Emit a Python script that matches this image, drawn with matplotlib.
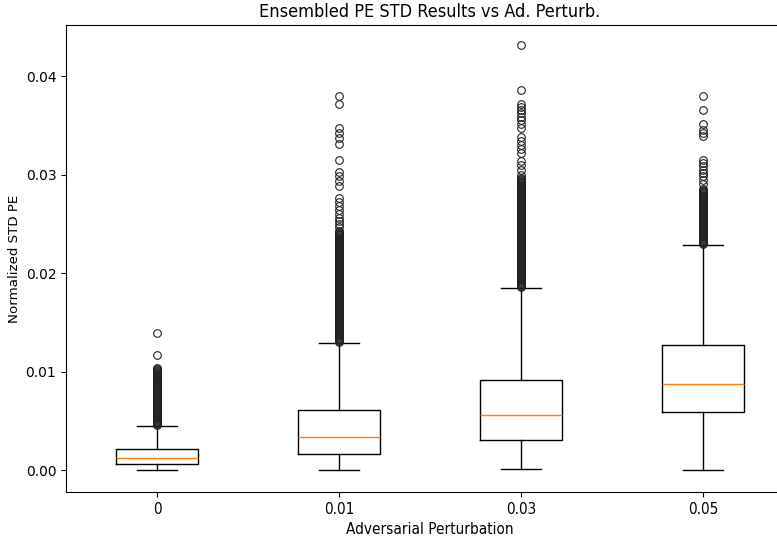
import matplotlib
matplotlib.use("Agg")
import matplotlib.pyplot as plt

# Perturbation levels and their tick labels
labels = ["0", "0.01", "0.03", "0.05"]

# Box statistics for each perturbation level
q1 = [0.00061, 0.00159, 0.00302, 0.00585]
med = [0.00122, 0.00332, 0.00561, 0.00876]
q3 = [0.00210, 0.00612, 0.00917, 0.01269]
whislo = [0.0000, 0.0000, 0.00007, 0.00003]
whishi = [0.00450, 0.01290, 0.01850, 0.02284]

# Outliers above the upper whisker
fliers_0 = [0.0139, 0.0117, 0.0104,
            0.0103, 0.0102, 0.0101, 0.0100, 0.0099, 0.0098, 0.0097, 0.0096, 0.0095, 0.0094,
            0.0093, 0.0092, 0.0091, 0.0090, 0.0089, 0.0088, 0.0087, 0.0086, 0.0085, 0.0084,
            0.0083, 0.0082, 0.0081, 0.0080, 0.0079, 0.0078, 0.0077, 0.0076, 0.0075, 0.0074,
            0.0073, 0.0072, 0.0071, 0.0070, 0.0069, 0.0068, 0.0067, 0.0066, 0.0065, 0.0064,
            0.0063, 0.0062, 0.0061, 0.0060, 0.0059, 0.0058, 0.0057, 0.0056, 0.0055, 0.0054,
            0.0053, 0.0052, 0.0051, 0.0050, 0.0049, 0.0048, 0.0047, 0.0046]
fliers_1 = [0.0380, 0.0372, 0.0347, 0.0342, 0.0337, 0.0331, 0.0315, 0.0303,
            0.0298, 0.0293, 0.0288, 0.0276, 0.0272, 0.0268, 0.0264, 0.0260,
            0.0256, 0.0253, 0.0250, 0.0247,
            0.0243, 0.0242, 0.0241, 0.0240, 0.0239, 0.0238, 0.0237, 0.0236, 0.0235, 0.0234,
            0.0233, 0.0232, 0.0231, 0.0230, 0.0229, 0.0228, 0.0227, 0.0226, 0.0225, 0.0224,
            0.0223, 0.0222, 0.0221, 0.0220, 0.0219, 0.0218, 0.0217, 0.0216, 0.0215, 0.0214,
            0.0213, 0.0212, 0.0211, 0.0210, 0.0209, 0.0208, 0.0207, 0.0206, 0.0205, 0.0204,
            0.0203, 0.0202, 0.0201, 0.0200, 0.0199, 0.0198, 0.0197, 0.0196, 0.0195, 0.0194,
            0.0193, 0.0192, 0.0191, 0.0190, 0.0189, 0.0188, 0.0187, 0.0186, 0.0185, 0.0184,
            0.0183, 0.0182, 0.0181, 0.0180, 0.0179, 0.0178, 0.0177, 0.0176, 0.0175, 0.0174,
            0.0173, 0.0172, 0.0171, 0.0170, 0.0169, 0.0168, 0.0167, 0.0166, 0.0165, 0.0164,
            0.0163, 0.0162, 0.0161, 0.0160, 0.0159, 0.0158, 0.0157, 0.0156, 0.0155, 0.0154,
            0.0153, 0.0152, 0.0151, 0.0150, 0.0149, 0.0148, 0.0147, 0.0146, 0.0145, 0.0144,
            0.0143, 0.0142, 0.0141, 0.0140, 0.0139, 0.0138, 0.0137, 0.0136, 0.0135, 0.0134,
            0.0133, 0.0132, 0.0131, 0.0130]
fliers_2 = [0.0431, 0.0386, 0.0372, 0.0369, 0.0366, 0.0362, 0.0358, 0.0355,
            0.0351, 0.0347, 0.0338, 0.0334, 0.0330, 0.0326, 0.0322, 0.0314,
            0.0310, 0.0305, 0.0300,
            0.0296, 0.0295, 0.0294, 0.0293, 0.0292, 0.0291, 0.0290, 0.0289, 0.0288, 0.0287,
            0.0286, 0.0285, 0.0284, 0.0283, 0.0282, 0.0281, 0.0280, 0.0279, 0.0278, 0.0277,
            0.0276, 0.0275, 0.0274, 0.0273, 0.0272, 0.0271, 0.0270, 0.0269, 0.0268, 0.0267,
            0.0266, 0.0265, 0.0264, 0.0263, 0.0262, 0.0261, 0.0260, 0.0259, 0.0258, 0.0257,
            0.0256, 0.0255, 0.0254, 0.0253, 0.0252, 0.0251, 0.0250, 0.0249, 0.0248, 0.0247,
            0.0246, 0.0245, 0.0244, 0.0243, 0.0242, 0.0241, 0.0240, 0.0239, 0.0238, 0.0237,
            0.0236, 0.0235, 0.0234, 0.0233, 0.0232, 0.0231, 0.0230, 0.0229, 0.0228, 0.0227,
            0.0226, 0.0225, 0.0224, 0.0223, 0.0222, 0.0221, 0.0220, 0.0219, 0.0218, 0.0217,
            0.0216, 0.0215, 0.0214, 0.0213, 0.0212, 0.0211, 0.0210, 0.0209, 0.0208, 0.0207,
            0.0206, 0.0205, 0.0204, 0.0203, 0.0202, 0.0201, 0.0200, 0.0199, 0.0198, 0.0197,
            0.0196, 0.0195, 0.0194, 0.0193, 0.0192, 0.0191, 0.0190, 0.0189, 0.0188, 0.0187,
            0.0186]
fliers_3 = [0.0380, 0.0366, 0.0351, 0.0345, 0.0342, 0.0339, 0.0315, 0.0312,
            0.0309, 0.0305, 0.0302, 0.0298, 0.0294, 0.0290,
            0.0285, 0.0284, 0.0283, 0.0282, 0.0281, 0.0280, 0.0279, 0.0278, 0.0277, 0.0276,
            0.0275, 0.0274, 0.0273, 0.0272, 0.0271, 0.0270, 0.0269, 0.0268, 0.0267, 0.0266,
            0.0265, 0.0264, 0.0263, 0.0262, 0.0261, 0.0260, 0.0259, 0.0258, 0.0257, 0.0256,
            0.0255, 0.0254, 0.0253, 0.0252, 0.0251, 0.0250, 0.0249, 0.0248, 0.0247, 0.0246,
            0.0245, 0.0244, 0.0243, 0.0242, 0.0241, 0.0240, 0.0239, 0.0238, 0.0237, 0.0236,
            0.0235, 0.0234, 0.0233, 0.0232, 0.0231, 0.0230, 0.0229]
fliers = [fliers_0, fliers_1, fliers_2, fliers_3]

stats = []
for i, lab in enumerate(labels):
    stats.append(dict(label=lab, q1=q1[i], med=med[i], q3=q3[i],
                      whislo=whislo[i], whishi=whishi[i], fliers=fliers[i]))

fig = plt.figure(figsize=(7.77, 5.37), dpi=100)
ax = fig.add_axes([66 / 777, 1 - 492 / 537, (794 - 66) / 777, (492 - 25) / 537])

ax.bxp(stats, widths=0.45, showfliers=True,
       flierprops=dict(marker="o", markerfacecolor="none",
                       markeredgecolor="#222222", markersize=5.5,
                       markeredgewidth=0.8))

ax.set_xlim(0.5, 4.5)
ax.set_ylim(-0.00223, 0.04518)
ax.set_yticks([0.0, 0.01, 0.02, 0.03, 0.04])
ax.set_yticklabels(["0.00", "0.01", "0.02", "0.03", "0.04"])
ax.tick_params(axis="y", labelsize=10)
ax.tick_params(axis="x", labelsize=11)
for t in ax.get_xticklabels():
    t.set_fontstretch("condensed")

ax.set_ylabel("Normalized STD PE", fontsize=9.6, labelpad=3)
ax.set_xlabel("Adversarial Perturbation", fontsize=11, fontstretch="condensed")
ax.set_title("Ensembled PE STD Results vs Ad. Perturb.", fontsize=13,
             fontstretch="condensed")

fig.savefig("out.png", dpi=100)
